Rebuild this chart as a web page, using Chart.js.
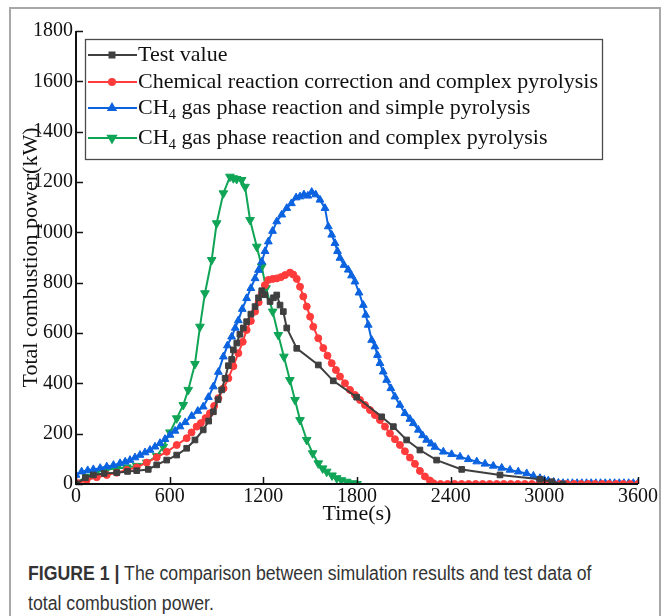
<!DOCTYPE html>
<html>
<head>
<meta charset="utf-8">
<script src="https://cdn.jsdelivr.net/npm/chart.js@4.4.0/dist/chart.umd.min.js"></script>
<style>
body{margin:0;background:#fff;width:665px;height:616px;overflow:hidden;position:relative}
#frame{position:absolute;left:9px;top:7px;width:648px;height:660px;border:2px solid #a8a8a8}
#box{position:absolute;left:0;top:0;width:665px;height:530px}
#caption{position:absolute;left:28px;top:558px;font-family:"Liberation Sans",sans-serif;font-size:20px;line-height:30px;color:#333;white-space:nowrap;transform:scaleX(0.885);transform-origin:0 0}
#caption b{font-weight:bold}
</style>
</head>
<body>
<div id="frame"></div>
<div id="box"><canvas id="lineChart" width="665" height="530"></canvas></div>
<div id="caption"><b>FIGURE 1 |</b> The comparison between simulation results and test data of<br>total combustion power.</div>
<script>
// values (time in s, power in kW)
var seriesNames=['Test value','Chemical reaction correction and complex pyrolysis','CH4 gas phase reaction and simple pyrolysis','CH4 gas phase reaction and complex pyrolysis'];
var xTicks=[0,600,1200,1800,2400,3000,3600];
var yTicks=[0,200,400,600,800,1000,1200,1400,1600,1800];

var testTime=[0,60,111,180,261,330,389,463,517,581,645,709,762,815,850,880,910,933,955,976,997,1008,1030,1050,1072,1093,1120,1147,1169,1190,1210,1243,1265,1286,1307,1328,1350,1414,1552,1648,1798,1958,2033,2118,2203,2310,2471,2716,2972,3047,3120];
var testPower=[0,25,36,42,45,50,53,58,76,95,115,142,175,215,250,287,335,374,420,470,495,533,560,595,620,645,675,705,740,768,752,725,740,751,711,685,620,539,473,410,345,267,228,175,135,95,58,36,19,9,0];

var chemTime=[0,15,68,133,197,261,325,389,453,517,581,645,709,740,773,800,830,858,885,912,945,976,1008,1040,1068,1093,1120,1147,1170,1190,1210,1232,1260,1286,1312,1339,1371,1392,1414,1435,1456,1478,1500,1520,1552,1584,1611,1638,1665,1691,1723,1755,1787,1819,1851,1883,1915,1947,1979,2011,2043,2075,2107,2139,2171,2203,2235,2267,2290,
  2335,2380,2425,2470,2515,2560,2605,2650,2695,2740,2785,2830,2875,2920,2965,3010,3055,3100,3145,3190,3235,3280,3325,3370,3415,3460,3505,3550,3600];
var chemPower=[0,3,16,27,36,45,56,66,85,106,128,155,182,205,228,242,262,281,310,341,380,420,468,520,565,612,648,685,722,758,790,811,815,817,822,830,840,832,815,784,745,705,665,625,579,540,510,480,453,427,400,374,354,334,314,294,274,254,228,201,178,155,130,105,80,52,30,14,3,
  0,0,0,0,0,0,0,0,0,0,0,0,0,0,0,0,0,0,0,0,0,0,0,0,0,0,0,0,0];

var simpleTime=[0,36,75,111,155,197,240,282,315,346,378,410,442,474,506,538,570,602,634,666,700,741,780,815,848,880,912,944,970,997,1020,1040,1065,1093,1120,1147,1169,1190,1211,1232,1259,1286,1318,1350,1380,1410,1435,1460,1485,1510,1535,1563,1595,1616,1638,1659,1675,1691,1717,1744,1765,1787,1813,1840,1856,1872,1894,1915,1931,1947,1968,1990,2017,2043,2075,2107,2139,2161,2193,2220,2246,2275,2300,2353,2406,2460,2513,2567,2620,2673,2727,2780,2833,2887,2930,2972,3000,3025,3060,
  3090,3120,3150,3180,3210,3240,3270,3300,3330,3360,3390,3420,3450,3480,3510,3540,3570,3600];
var simplePower=[36,49,54,58,63,69,75,82,88,95,105,115,125,135,148,162,178,195,211,228,245,270,290,307,345,387,445,506,550,585,620,650,695,738,778,817,850,883,925,963,1005,1043,1070,1096,1115,1138,1142,1150,1145,1160,1150,1129,1096,1023,990,957,925,898,870,851,828,804,760,711,672,632,572,546,512,480,446,413,380,347,314,281,258,241,215,193,175,160,147,128,118,108,98,89,80,72,64,56,49,42,32,23,16,13,8,
  4,3,3,3,3,3,3,3,3,3,3,3,3,3,3,3,3,3];

var complexTime=[0,68,133,197,261,325,389,453,517,559,602,645,687,719,762,794,826,869,901,944,986,1008,1029,1061,1083,1115,1158,1190,1217,1260,1296,1332,1370,1403,1435,1478,1516,1552,1580,1606,1640,1670,1700,1734,1776,1800,3600];
var complexPower=[4,29,49,58,62,66,72,85,111,148,205,261,314,374,477,625,758,890,1036,1155,1221,1215,1212,1208,1181,1049,943,864,778,685,592,506,413,334,254,175,122,82,62,49,34,23,15,9,3,0,0];

var colors=['#3f3f3f','#ff3b3b','#0b63e0','#10a556'];
var styles=['rect','circle','triangle','triangle'];
var rotations=[0,0,0,180];
var radii=[4,3.5,4.5,5];

function pts(t,p){
	return t.map(function(v,i){ return {x:v,y:p[i]}; });
}

function makeSet(i,t,p){
	return {
		label:seriesNames[i],
		data:pts(t,p),
		borderColor:colors[i],
		backgroundColor:colors[i],
		borderWidth:2,
		pointStyle:styles[i],
		pointRotation:rotations[i],
		pointRadius:function(ctx){ return (i==3 && ctx.raw && ctx.raw.x>1800) ? 0 : radii[i]; },
		pointBackgroundColor:colors[i],
		pointBorderColor:colors[i],
		pointBorderWidth:1,
		tension:0
	};
}

var axisPlugin={
	id:'axisPlugin',
	afterDraw:function(chart){
		var c=chart.ctx, xs=chart.scales.x, ys=chart.scales.y;
		var a=chart.chartArea;
		c.save();
		c.strokeStyle='#111';
		c.lineWidth=2;
		c.beginPath();
		c.moveTo(a.left,a.top);
		c.lineTo(a.left,a.bottom);
		c.lineTo(a.right,a.bottom);
		c.stroke();
		c.lineWidth=1.5;
		yTicks.forEach(function(v){
			var py=Math.round(ys.getPixelForValue(v))+0.5;
			c.beginPath(); c.moveTo(a.left,py); c.lineTo(a.left+7,py); c.stroke();
		});
		xTicks.forEach(function(v){
			var px=Math.round(xs.getPixelForValue(v))+0.5;
			c.beginPath(); c.moveTo(px,a.bottom); c.lineTo(px,a.bottom-7); c.stroke();
		});
		c.restore();
	}
};

var legendPlugin={
	id:'legendPlugin',
	afterDraw:function(chart){
		var c=chart.ctx;
		var rowsY=[55,82,108,138];
		c.save();
		c.fillStyle='#fff';
		c.fillRect(85,39,517,120);
		c.strokeStyle='#4a4a4a';
		c.lineWidth=1.3;
		c.strokeRect(85.5,39.5,517,120);
		chart.data.datasets.forEach(function(ds,i){
			var y=rowsY[i];
			c.strokeStyle=colors[i];
			c.fillStyle=colors[i];
			c.lineWidth=2;
			c.beginPath(); c.moveTo(88,y); c.lineTo(137,y); c.stroke();
			Chart.helpers.drawPoint(c,{pointStyle:styles[i],radius:radii[i]-0.5,rotation:rotations[i],borderWidth:1},112,y);
			c.fillStyle='#111';
			c.textBaseline='middle';
			c.textAlign='left';
			var txt=seriesNames[i], x=138;
			if(txt.indexOf('CH4')===0){
				c.font='22px "Liberation Serif"';
				c.fillText('CH',x,y); x+=c.measureText('CH').width;
				c.font='15px "Liberation Serif"';
				c.fillText('4',x,y+7); x+=c.measureText('4').width;
				txt=txt.substring(3);
			}
			c.font='22px "Liberation Serif"';
			c.fillText(txt,x,y);
		});
		c.restore();
	}
};

function drawChart(){
	new Chart(document.getElementById('lineChart'),{
		type:'line',
		data:{
			datasets:[
				makeSet(0,testTime,testPower),
				makeSet(1,chemTime,chemPower),
				makeSet(2,simpleTime,simplePower),
				makeSet(3,complexTime,complexPower)
			]
		},
		options:{
			responsive:false,
			animation:false,
			devicePixelRatio:1,
			layout:{padding:{left:0,right:27,top:31,bottom:0}},
			plugins:{legend:{display:false},tooltip:{enabled:false}},
			scales:{
				x:{
					type:'linear',min:0,max:3600,
					afterFit:function(s){ s.height=46; },
					afterBuildTicks:function(s){ s.ticks=xTicks.map(function(v){return {value:v};}); },
					grid:{display:false,drawTicks:false},
					border:{display:false},
					ticks:{padding:1,color:'#111',font:{family:'Liberation Serif',size:20},maxRotation:0,
						callback:function(v){ return String(v); }},
					title:{display:true,text:'Time(s)',color:'#111',font:{family:'Liberation Serif',size:22},padding:{top:0,bottom:3}}
				},
				y:{
					type:'linear',min:0,max:1800,
					afterFit:function(s){ s.width=76; },
					afterBuildTicks:function(s){ s.ticks=yTicks.map(function(v){return {value:v};}); },
					grid:{display:false,drawTicks:false},
					border:{display:false},
					ticks:{padding:3,color:'#111',font:{family:'Liberation Serif',size:20},
						callback:function(v){ return String(v); }},
					title:{display:true,text:'Total combustion power(kW)',color:'#111',font:{family:'Liberation Serif',size:22},padding:{top:18,bottom:0}}
				}
			}
		},
		plugins:[axisPlugin,legendPlugin]
	});
}

drawChart();
</script>
</body>
</html>
